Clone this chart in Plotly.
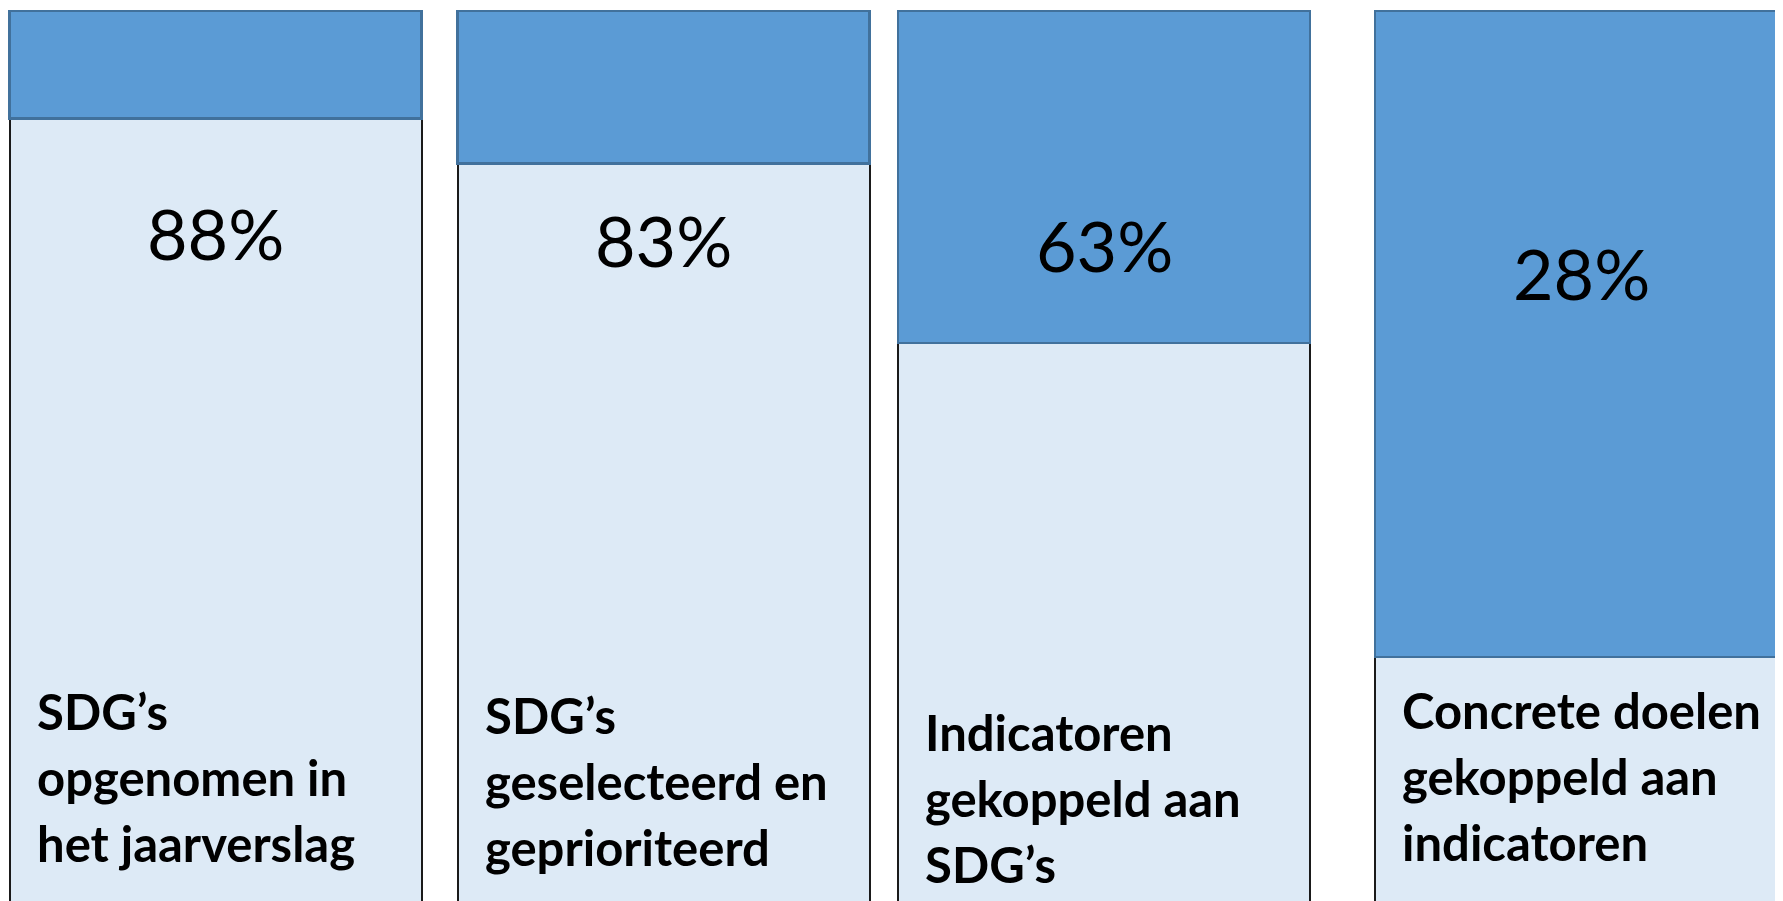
import plotly.graph_objects as go

categories = [
    "SDG’s<br>opgenomen in<br>het jaarverslag",
    "SDG’s<br>geselecteerd en<br>geprioriteerd",
    "Indicatoren<br>gekoppeld aan<br>SDG’s",
    "Concrete doelen<br>gekoppeld aan<br>indicatoren",
]
percentages = [88, 83, 63, 28]
remainder = [100 - p for p in percentages]
pct_labels = [f"{p}%" for p in percentages]

# layout tweaks (not data): per-box horizontal nudge and text positions
box_nudge = [-0.0024, -0.015, -0.044, 0.0075]
pct_label_y = [0.750, 0.742, 0.737, 0.706]
cat_label_y = [0.147, 0.142, 0.123, 0.148]
line_px = 66

LIGHT = "#DDEAF6"
DARK = "#5B9BD5"
DARK_EDGE = "#41719C"

xs = list(range(len(categories)))
bar_w = 0.908
offsets = [-bar_w / 2 + d for d in box_nudge]

fig = go.Figure()
fig.add_trace(go.Bar(
    x=xs, y=percentages, width=bar_w, offset=offsets,
    marker=dict(color=LIGHT, line=dict(color="#1a1a1a", width=2)),
    hoverinfo="skip", showlegend=False,
))
fig.add_trace(go.Bar(
    x=xs, y=remainder, width=bar_w, offset=offsets,
    marker=dict(color=DARK, line=dict(color=DARK_EDGE, width=2.5)),
    hoverinfo="skip", showlegend=False,
))

annotations = []
for i in xs:
    annotations.append(dict(
        x=i + box_nudge[i], xref="x", y=pct_label_y[i], yref="paper",
        text=pct_labels[i], showarrow=False,
        xanchor="center", yanchor="middle",
        font=dict(family="Lato", size=70, color="black"),
    ))
    lines = categories[i].split("<br>")
    mid = (len(lines) - 1) / 2
    for j, line in enumerate(lines):
        annotations.append(dict(
            x=i - bar_w / 2 + box_nudge[i], xref="x", xshift=25,
            y=cat_label_y[i], yref="paper", yshift=(mid - j) * line_px,
            text=f"<b>{line}</b>", showarrow=False,
            xanchor="left", yanchor="middle", align="left",
            font=dict(family="Lato", size=49, color="black"),
        ))

fig.update_layout(
    barmode="stack",
    width=1783, height=901,
    margin=dict(l=0, r=0, t=0, b=0),
    paper_bgcolor="white", plot_bgcolor="white",
    xaxis=dict(visible=False, range=[-0.46, 3.47]),
    yaxis=dict(visible=False, range=[-0.11, 100.33]),
    annotations=annotations,
)

fig.write_html("out.html")
